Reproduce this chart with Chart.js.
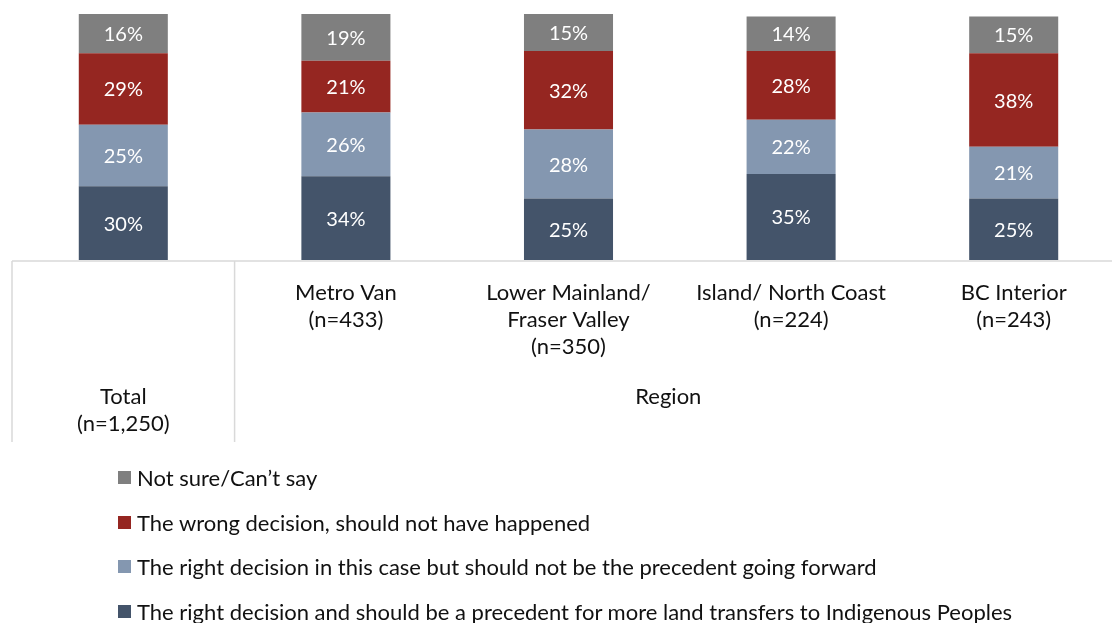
<!DOCTYPE html>
<html>
<head>
<meta charset="utf-8">
<script src="https://cdn.jsdelivr.net/npm/chart.js@4"></script>
<style>
  html, body { margin:0; padding:0; background:#fff; overflow:hidden; width:1112px; height:623px; }
  #wrap { position:relative; width:1112px; height:623px; }
  canvas { position:absolute; left:0; top:0; }
  #legend { position:absolute; left:118px; top:455px; font-family:Lato, sans-serif; font-size:22px; color:#111; }
  #legend div { height:44.7px; display:flex; align-items:center; }
  #legend span.box { display:inline-block; width:13px; height:13px; margin-right:6px; }
</style>
</head>
<body>
<div id="wrap">
  <canvas id="chart" width="1125" height="623"></canvas>
  <div id="legend"></div>
</div>
<script>
const categories = ['Total', 'Metro Van', 'Lower Mainland/ Fraser Valley', 'Island/ North Coast', 'BC Interior'];
const tickLabels = [
  ['Total', '(n=1,250)'],
  ['Metro Van', '(n=433)'],
  ['Lower Mainland/', 'Fraser Valley', '(n=350)'],
  ['Island/ North Coast', '(n=224)'],
  ['BC Interior', '(n=243)']
];
const groupLabel = 'Region';

const rightPrecedent = [30, 34, 25, 35, 25];
const rightThisCase  = [25, 26, 28, 22, 21];
const wrongDecision  = [29, 21, 32, 28, 38];
const notSure        = [16, 19, 15, 14, 15];

const FONT = 'Lato, sans-serif';

// white % labels in the middle of each segment
const segmentLabels = {
  id: 'segmentLabels',
  afterDatasetsDraw(chart) {
    const ctx = chart.ctx;
    ctx.save();
    ctx.fillStyle = '#fff';
    ctx.font = '20px ' + FONT;
    ctx.textAlign = 'center';
    ctx.textBaseline = 'middle';
    chart.data.datasets.forEach((ds, i) => {
      chart.getDatasetMeta(i).data.forEach((bar, j) => {
        const mid = (bar.y + bar.base) / 2;
        ctx.fillText(ds.data[j] + '%', bar.x, mid + 1);
      });
    });
    ctx.restore();
  }
};

// table-style category axis under the bars
const categoryTable = {
  id: 'categoryTable',
  afterDraw(chart) {
    const ctx = chart.ctx;
    const x = chart.scales.x;
    const area = chart.chartArea;
    const y0 = area.bottom;
    const split = (x.getPixelForValue(0) + x.getPixelForValue(1)) / 2;
    ctx.save();
    ctx.strokeStyle = '#d9d9d9';
    ctx.lineWidth = 1.5;
    ctx.beginPath();
    ctx.moveTo(area.left, y0 + 1); ctx.lineTo(1112, y0 + 1);
    ctx.moveTo(area.left, y0 + 1); ctx.lineTo(area.left, 442);
    ctx.moveTo(split, y0 + 1); ctx.lineTo(split, 442);
    ctx.stroke();

    ctx.fillStyle = '#111';
    ctx.font = '22px ' + FONT;
    ctx.textAlign = 'center';
    ctx.textBaseline = 'middle';
    tickLabels.forEach((lines, i) => {
      const cx = x.getPixelForValue(i);
      const top = i === 0 ? 397 : 293;
      lines.forEach((t, k) => ctx.fillText(t, cx, top + k * 27));
    });
    ctx.fillText(groupLabel, (split + 1112) / 2 - 5, 397);
    ctx.restore();
  }
};

const chart = new Chart(document.getElementById('chart'), {
  type: 'bar',
  data: {
    labels: categories,
    datasets: [
      { label: 'The right decision and should be a precedent for more land transfers to Indigenous Peoples', data: rightPrecedent, backgroundColor: '#44546a' },
      { label: 'The right decision in this case but should not be the precedent going forward', data: rightThisCase, backgroundColor: '#8497b0' },
      { label: 'The wrong decision, should not have happened', data: wrongDecision, backgroundColor: '#952621' },
      { label: 'Not sure/Can\u2019t say', data: notSure, backgroundColor: '#7f7f7f' }
    ]
  },
  options: {
    responsive: false,
    animation: false,
    layout: { padding: { top: 14, left: 12, right: 0, bottom: 363 } },
    datasets: { bar: { categoryPercentage: 1, barPercentage: 0.4, borderWidth: 0 } },
    scales: {
      x: { stacked: true, display: false },
      y: { stacked: true, display: false, min: 0, max: 100 }
    },
    plugins: { legend: { display: false }, tooltip: { enabled: false } }
  },
  plugins: [segmentLabels, categoryTable]
});

// legend listed top-down in stack order
const legend = document.getElementById('legend');
chart.data.datasets.slice().reverse().forEach(ds => {
  const row = document.createElement('div');
  const box = document.createElement('span');
  box.className = 'box';
  box.style.background = ds.backgroundColor;
  row.appendChild(box);
  row.appendChild(document.createTextNode(ds.label));
  legend.appendChild(row);
});
</script>
</body>
</html>
